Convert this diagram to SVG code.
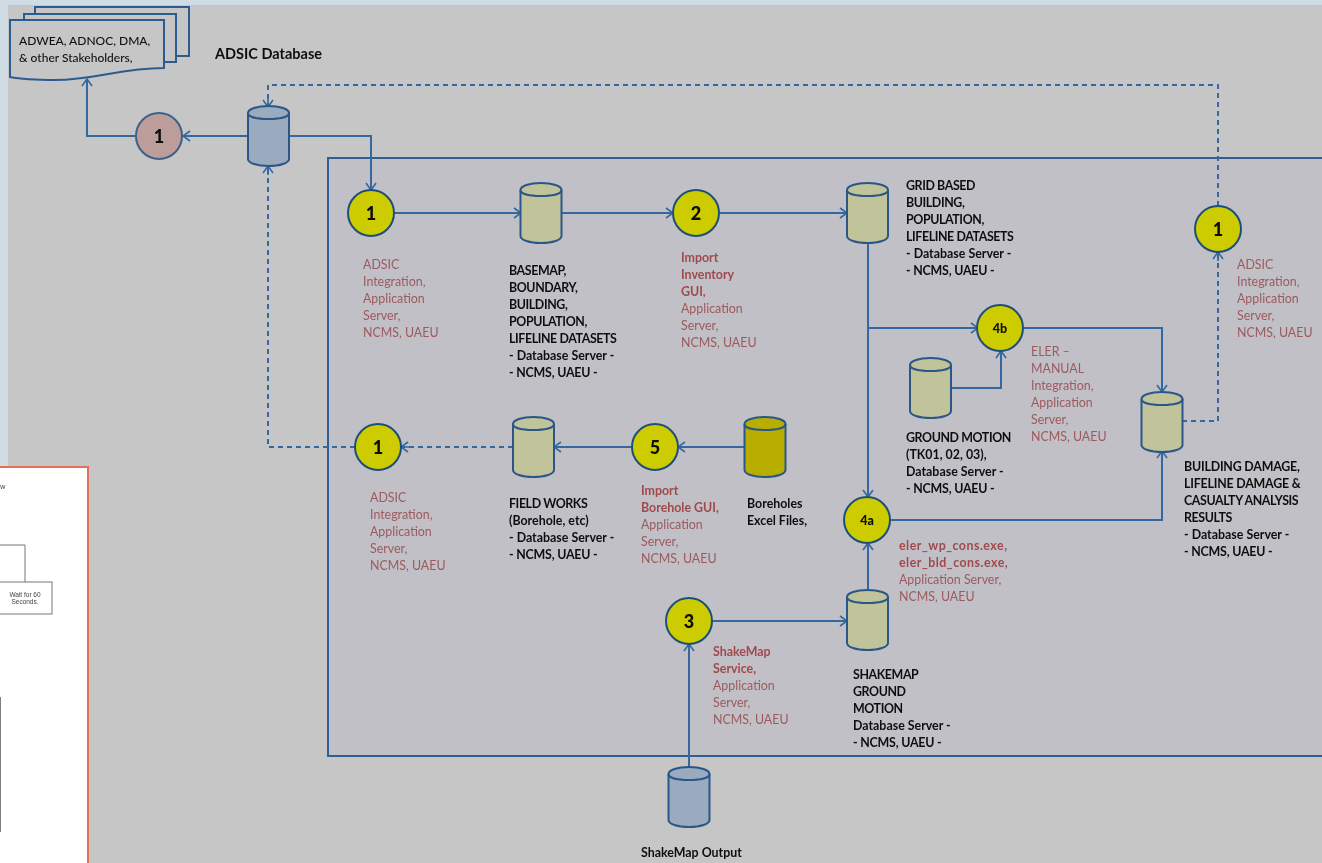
<svg xmlns="http://www.w3.org/2000/svg" width="1322" height="863" viewBox="0 0 1322 863">
<style>
text{font-family:"Lato","Open Sans","Liberation Sans",sans-serif;font-size:12.4px;fill:#9c5a5e}
.k{fill:#101010;font-weight:700}
.u{letter-spacing:-.4px}
.v{letter-spacing:-.2px}
.r{font-weight:700;fill:#a04a4e}
.e{letter-spacing:.5px}
.n{font-size:18px;font-weight:900;fill:#0c0c0c;text-anchor:middle}
.s{font-size:12px;font-weight:500}
.c{fill:none;stroke:#3568a0;stroke-width:2}
.d{stroke-dasharray:5 4}
.cy{stroke:#2c5688;stroke-width:2}
.t{fill:#c1c49a}.b{fill:#9aaabf}.o{fill:#b8ae00}
.y{fill:#cccc00;stroke:#1f4f78;stroke-width:2}
.p{fill:#bd9c9c;stroke:#3a6288;stroke-width:2}
.w{fill:#fff;stroke:#777;stroke-width:1}
</style>
<defs>
<filter id="soft" x="0" y="0" width="100%" height="100%"><feGaussianBlur stdDeviation="0.6"/></filter>
<marker id="a" viewBox="0 0 12 12" refX="11" refY="6" markerWidth="12" markerHeight="12" markerUnits="userSpaceOnUse" orient="auto"><path d="M4 1L11 6L4 11M11 6H2" fill="none" stroke="#3568a0" stroke-width="1.6"/></marker>
<g id="cyl"><path d="M0 7V53C0 57 9 60 20.500 60S41 57 41 53V7C41 3 32 0 20.500 0S0 3 0 7Z"/><path d="M0 7C0 11 9 13 20.500 13S41 11 41 7" fill="none"/></g>
</defs>
<g filter="url(#soft)">
<rect width="1322" height="863" fill="#cfdce3"/>
<rect x="8" y="5" width="1314" height="858" fill="#c6c6c6"/>
<rect id="panel" x="328" y="158" width="1000" height="598" fill="#c0c0c6" stroke="#2f5f92" stroke-width="2"/>

<g id="connectors">
<path class="c" d="M248 136H183" marker-end="url(#a)"/>
<path class="c" d="M136 136H87V79" marker-end="url(#a)"/>
<path class="c" d="M289 136H371V190" marker-end="url(#a)"/>
<path class="c" d="M394 213H521" marker-end="url(#a)"/>
<path class="c" d="M561 213H673" marker-end="url(#a)"/>
<path class="c" d="M719 213H847" marker-end="url(#a)"/>
<path class="c" d="M868 243V497" marker-end="url(#a)"/>
<path class="c" d="M868 328H978" marker-end="url(#a)"/>
<path class="c" d="M951 388H1001V351" marker-end="url(#a)"/>
<path class="c" d="M1024 328H1162V392" marker-end="url(#a)"/>
<path class="c" d="M890 520H1162V451" marker-end="url(#a)"/>
<path class="c" d="M868 590V543" marker-end="url(#a)"/>
<path class="c" d="M712 621H847" marker-end="url(#a)"/>
<path class="c" d="M689 767V644" marker-end="url(#a)"/>
<path class="c" d="M745 447H678" marker-end="url(#a)"/>
<path class="c" d="M632 447H554" marker-end="url(#a)"/>
<path class="c d" d="M513 447H401" marker-end="url(#a)"/>
<path class="c d" d="M355 447H268V166" marker-end="url(#a)"/>
<path class="c d" d="M1182 421H1218V252" marker-end="url(#a)"/>
<path class="c d" d="M1218 206V85H268V107" marker-end="url(#a)"/>
</g>

<g id="stakeholders">
<path d="M35 7H189V56H35Z" fill="#c6c6c6" stroke="#2c5c90" stroke-width="2"/>
<path d="M24 14H176V62H24Z" fill="#c6c6c6" stroke="#2c5c90" stroke-width="2"/>
<path d="M10 20H164V68C120 68 95 80 55 80C35 80 20 79 10 77Z" fill="#c6c6c6" stroke="#2c5c90" stroke-width="2"/>
<text class="s" x="19" y="45" style="fill:#111">ADWEA, ADNOC, DMA,</text>
<text class="s" x="19" y="62" style="fill:#111">&amp; other Stakeholders,</text>
</g>
<g id="adsic-label"><text class="k" x="215" y="59" style="font-size:14.500px">ADSIC Database</text></g>

<g id="db-adsic"><use href="#cyl" class="cy b" x="248" y="106"/></g>
<g id="db-basemap"><use href="#cyl" class="cy t" x="520.500" y="183"/>
<text class="k"><tspan class="u" x="509" y="275">BASEMAP,</tspan><tspan class="u" x="509" y="292">BOUNDARY,</tspan><tspan class="u" x="509" y="309">BUILDING,</tspan><tspan class="u" x="509" y="326">POPULATION,</tspan><tspan class="u" x="509" y="343">LIFELINE DATASETS</tspan><tspan x="509" y="360">- Database Server -</tspan><tspan class="v" x="509" y="377">- NCMS, UAEU -</tspan></text></g>
<g id="db-grid"><use href="#cyl" class="cy t" x="847" y="183"/>
<text class="k"><tspan class="u" x="906" y="190">GRID BASED</tspan><tspan class="u" x="906" y="207">BUILDING,</tspan><tspan class="u" x="906" y="224">POPULATION,</tspan><tspan class="u" x="906" y="241">LIFELINE DATASETS</tspan><tspan x="906" y="258">- Database Server -</tspan><tspan class="v" x="906" y="275">- NCMS, UAEU -</tspan></text></g>
<g id="db-ground"><use href="#cyl" class="cy t" x="910" y="358"/>
<text class="k"><tspan class="u" x="906" y="442">GROUND MOTION</tspan><tspan x="906" y="459">(TK01, 02, 03),</tspan><tspan x="906" y="476">Database Server -</tspan><tspan class="v" x="906" y="493">- NCMS, UAEU -</tspan></text></g>
<g id="db-results"><use href="#cyl" class="cy t" x="1141.500" y="392"/>
<text class="k"><tspan class="v" x="1184" y="471">BUILDING DAMAGE,</tspan><tspan class="v" x="1184" y="488">LIFELINE DAMAGE &amp;</tspan><tspan class="u" x="1184" y="505">CASUALTY ANALYSIS</tspan><tspan class="u" x="1184" y="522">RESULTS</tspan><tspan x="1184" y="539">- Database Server -</tspan><tspan class="v" x="1184" y="556">- NCMS, UAEU -</tspan></text></g>
<g id="db-field"><use href="#cyl" class="cy t" x="513" y="417"/>
<text class="k"><tspan class="u" x="509" y="508">FIELD WORKS</tspan><tspan x="509" y="525">(Borehole, etc)</tspan><tspan x="509" y="542">- Database Server -</tspan><tspan class="v" x="509" y="559">- NCMS, UAEU -</tspan></text></g>
<g id="db-boreholes"><use href="#cyl" class="cy o" x="744.500" y="417"/>
<text class="k"><tspan x="747" y="508">Boreholes</tspan><tspan x="747" y="525">Excel Files,</tspan></text></g>
<g id="db-shakemap"><use href="#cyl" class="cy t" x="847" y="590"/>
<text class="k"><tspan class="u" x="853" y="679">SHAKEMAP</tspan><tspan class="u" x="853" y="696">GROUND</tspan><tspan class="u" x="853" y="713">MOTION</tspan><tspan x="853" y="730">Database Server -</tspan><tspan class="v" x="853" y="747">- NCMS, UAEU -</tspan></text></g>
<g id="db-output"><use href="#cyl" class="cy b" x="668.500" y="767"/>
<text class="k" x="641" y="857">ShakeMap Output</text></g>

<g id="p-pink"><circle class="p" cx="159" cy="136" r="23"/><text class="n" x="159" y="142.500">1</text></g>
<g id="p-1a"><circle class="y" cx="371" cy="213" r="23"/><text class="n" x="371" y="219.500">1</text>
<text><tspan x="363" y="269">ADSIC</tspan><tspan x="363" y="286">Integration,</tspan><tspan x="363" y="303">Application</tspan><tspan x="363" y="320">Server,</tspan><tspan x="363" y="337">NCMS, UAEU</tspan></text></g>
<g id="p-2"><circle class="y" cx="696" cy="213" r="23"/><text class="n" x="696" y="219.500">2</text>
<text><tspan class="r" x="681" y="262">Import</tspan><tspan class="r" x="681" y="279">Inventory</tspan><tspan class="r" x="681" y="296">GUI,</tspan><tspan x="681" y="313">Application</tspan><tspan x="681" y="330">Server,</tspan><tspan x="681" y="347">NCMS, UAEU</tspan></text></g>
<g id="p-1b"><circle class="y" cx="1218" cy="229" r="23"/><text class="n" x="1218" y="235.500">1</text>
<text><tspan x="1237" y="269">ADSIC</tspan><tspan x="1237" y="286">Integration,</tspan><tspan x="1237" y="303">Application</tspan><tspan x="1237" y="320">Server,</tspan><tspan x="1237" y="337">NCMS, UAEU</tspan></text></g>
<g id="p-4b"><circle class="y" cx="1000" cy="328" r="23"/><text class="n" x="1000" y="333" style="font-size:12.500px">4b</text>
<text><tspan x="1031" y="356">ELER –</tspan><tspan x="1031" y="373">MANUAL</tspan><tspan x="1031" y="390">Integration,</tspan><tspan x="1031" y="407">Application</tspan><tspan x="1031" y="424">Server,</tspan><tspan x="1031" y="441">NCMS, UAEU</tspan></text></g>
<g id="p-1c"><circle class="y" cx="378" cy="447" r="23"/><text class="n" x="378" y="453.500">1</text>
<text><tspan x="370" y="502">ADSIC</tspan><tspan x="370" y="519">Integration,</tspan><tspan x="370" y="536">Application</tspan><tspan x="370" y="553">Server,</tspan><tspan x="370" y="570">NCMS, UAEU</tspan></text></g>
<g id="p-5"><circle class="y" cx="655" cy="447" r="23"/><text class="n" x="655" y="453.500">5</text>
<text><tspan class="r" x="641" y="495">Import</tspan><tspan class="r" x="641" y="512">Borehole GUI,</tspan><tspan x="641" y="529">Application</tspan><tspan x="641" y="546">Server,</tspan><tspan x="641" y="563">NCMS, UAEU</tspan></text></g>
<g id="p-4a"><circle class="y" cx="867" cy="520" r="23"/><text class="n" x="867" y="525" style="font-size:12.500px">4a</text>
<text><tspan class="r e" x="899" y="550">eler_wp_cons.exe,</tspan><tspan class="r e" x="899" y="567">eler_bld_cons.exe,</tspan><tspan x="899" y="584">Application Server,</tspan><tspan x="899" y="601">NCMS, UAEU</tspan></text></g>
<g id="p-3"><circle class="y" cx="689" cy="621" r="23"/><text class="n" x="689" y="627.500">3</text>
<text><tspan class="r" x="713" y="656">ShakeMap</tspan><tspan class="r" x="713" y="673">Service,</tspan><tspan x="713" y="690">Application</tspan><tspan x="713" y="707">Server,</tspan><tspan x="713" y="724">NCMS, UAEU</tspan></text></g>

<g id="overlay">
<rect x="-3" y="467" width="91" height="400" fill="#fff" stroke="#e0705a" stroke-width="2"/>
<text x="0" y="489" style="font-size:7px;fill:#444">w</text>
<path d="M-2 545H25V582" fill="none" stroke="#777"/>
<rect class="w" x="-5" y="582" width="57" height="32"/>
<text x="25" y="597" text-anchor="middle" style="font-size:6.500px;fill:#444;font-family:'Liberation Sans',sans-serif">Wait for 60</text>
<text x="25" y="604" text-anchor="middle" style="font-size:6.500px;fill:#444;font-family:'Liberation Sans',sans-serif">Seconds.</text>
<path d="M0 697V832" stroke="#555" stroke-width="1.500"/>
</g>
</g>
</svg>
